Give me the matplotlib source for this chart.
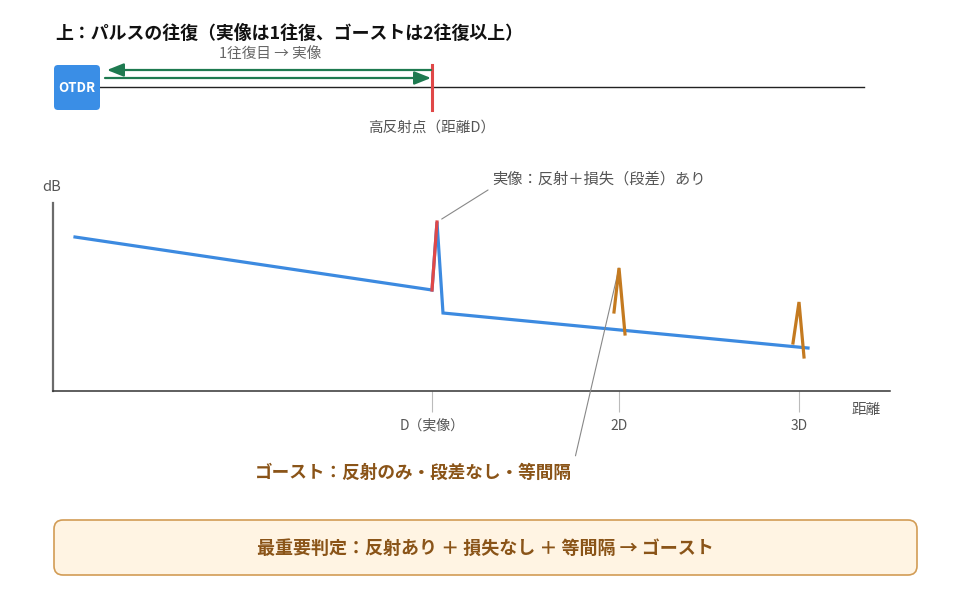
import matplotlib
matplotlib.use("Agg")
import matplotlib.pyplot as plt
from matplotlib.patches import FancyBboxPatch

plt.rcParams['font.family'] = ['Noto Sans CJK JP', 'DejaVu Sans']

# ---- data (x: distance in screen units, y: level in screen units, inverted) ----
main_x = [75, 432, 437, 443, 808]
main_y = [237, 290, 222, 313, 348]
ghost2_x = [614, 619, 625]
ghost2_y = [312, 268, 334]
ghost3_x = [793, 799, 804]
ghost3_y = [343, 302, 357]
tick_x = [432, 619, 799]
tick_labels = ["D（実像）", "2D", "3D"]

W, H = 972, 594
fig = plt.figure(figsize=(W / 100, H / 100), dpi=100)

# trace axes
x0, x1, yb, yt = 53, 890, 391, 203
ax = fig.add_axes([x0 / W, (H - yb) / H, (x1 - x0) / W, (yb - yt) / H])
ax.set_facecolor('none')
ax.set_xlim(x0, x1)
ax.set_ylim(yb, yt)
for s in ['top', 'right']:
    ax.spines[s].set_visible(False)
ax.spines['left'].set_color('#6b6b6b')
ax.spines['left'].set_linewidth(1.6)
ax.spines['bottom'].set_color('#333333')
ax.spines['bottom'].set_linewidth(1.1)
ax.set_yticks([])
ax.set_xticks(tick_x)
ax.set_xticklabels(tick_labels)
ax.tick_params(axis='x', length=15, width=0.8, color='#bbbbbb', pad=5,
               labelsize=10, labelcolor='#555555')

blue = '#3c8ae0'
red = '#e04848'
orange = '#c47a20'
ax.plot(main_x, main_y, color=blue, lw=2.3, solid_joinstyle='miter', zorder=3)
ax.plot(main_x[1:3], main_y[1:3], color=red, lw=2.3, zorder=4)
ax.plot(ghost2_x, ghost2_y, color=orange, lw=2.3, solid_joinstyle='miter', zorder=4)
ax.plot(ghost3_x, ghost3_y, color=orange, lw=2.3, solid_joinstyle='miter', zorder=4)

ax.annotate("実像：反射＋損失（段差）あり", xy=(main_x[2], main_y[2]),
            xytext=(492, H - 179), textcoords='figure pixels',
            ha='left', va='center', fontsize=11, color='#555555',
            annotation_clip=False,
            arrowprops=dict(arrowstyle='-', color='#888888', lw=0.8,
                            relpos=(0, 0), shrinkA=1, shrinkB=4))
ax.annotate("ゴースト：反射のみ・段差なし・等間隔", xy=(ghost2_x[1], ghost2_y[1]),
            xytext=(413, H - 473), textcoords='figure pixels',
            ha='center', va='center', fontsize=12.7, color='#8a5418',
            fontweight='bold', annotation_clip=False,
            arrowprops=dict(arrowstyle='-', color='#888888', lw=0.8,
                            relpos=(1, 0.5), shrinkA=4, shrinkB=0))

# overlay axes in pixel coordinates
ov = fig.add_axes([0, 0, 1, 1])
ov.set_facecolor('none')
ov.set_xlim(0, W)
ov.set_ylim(H, 0)
ov.axis('off')

ov.text(55, 34, "上：パルスの往復（実像は1往復、ゴーストは2往復以上）", fontsize=12.9,
        fontweight='bold', color='#111111', ha='left', va='center')

# fiber
ov.plot([100, 864], [87, 87], color='#222222', lw=1.0)
ov.add_patch(FancyBboxPatch((54, 65), 46, 45, boxstyle='round,pad=0,rounding_size=4',
                            fc='#3a8ee6', ec='none', zorder=3))
ov.text(77, 88, "OTDR", color='white', fontsize=9.5, fontweight='bold',
        ha='center', va='center', zorder=4)
ov.plot([432, 432], [65, 110], color=red, lw=2.2, zorder=3)

green = '#1e7a50'
ov.annotate('', xy=(107, 70), xytext=(431, 70),
            arrowprops=dict(arrowstyle='-|>,head_length=1.0,head_width=0.4',
                            color=green, lw=1.6, shrinkA=0, shrinkB=0))
ov.annotate('', xy=(431, 78), xytext=(105, 78),
            arrowprops=dict(arrowstyle='-|>,head_length=1.0,head_width=0.4',
                            color=green, lw=1.6, shrinkA=0, shrinkB=0))
ov.text(270, 54, "1往復目 → 実像", fontsize=10.5, color='#666666',
        ha='center', va='center')
ov.text(432, 128, "高反射点（距離D）", fontsize=10.5, color='#555555',
        ha='center', va='center')

ov.text(52, 187, "dB", fontsize=10.5, color='#555555', ha='center', va='center')
ov.text(866, 410, "距離", fontsize=10.5, color='#555555', ha='center', va='center')

# bottom box
ov.add_patch(FancyBboxPatch((54, 520), 863, 55, boxstyle='round,pad=0,rounding_size=9',
                            fc='#fff4e3', ec='#d29c55', lw=1.2))
ov.text(485, 548, "最重要判定：反射あり ＋ 損失なし ＋ 等間隔 → ゴースト", fontsize=13,
        fontweight='bold', color='#8a5418', ha='center', va='center')

fig.savefig('out.png', dpi=100)
